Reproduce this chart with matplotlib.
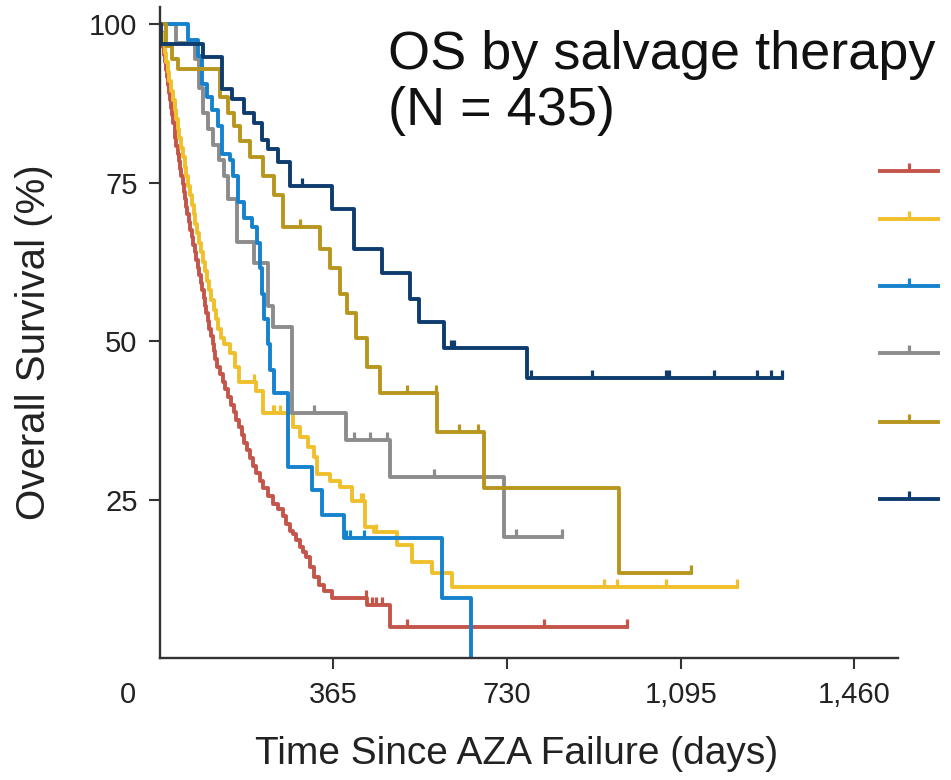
import numpy as np
import matplotlib.pyplot as plt
import matplotlib.transforms as mtransforms
from matplotlib.lines import Line2D
from matplotlib.markers import TICKUP

plt.rcParams['font.family'] = ['Liberation Sans', 'DejaVu Sans']

# Kaplan-Meier steps: event times (days) and survival (%) after each drop
red_t = [2, 4, 6, 8, 11, 13, 15, 17, 19, 21, 24, 26, 28, 31, 33, 35, 38, 40, 43, 45,
         48, 50, 53, 55, 58, 61, 64, 67, 70, 73, 76, 80, 83, 86, 89, 92, 95, 98, 101, 104,
         108, 111, 114, 117, 120, 126, 132, 138, 144, 150, 156, 161, 166, 172, 178, 184,
         190, 196, 203, 210, 218, 227, 237, 248, 258, 266, 273, 280, 287, 294, 301, 308,
         316, 324, 334, 346, 361, 436, 483]
red_s = [98.8, 97.6, 96.4, 95.2, 94, 92.8, 91.6, 90.4, 89.2, 88, 86.8, 85.6, 84.4, 83.2,
         82, 80.8, 79.6, 78.4, 77.2, 76, 74.8, 73.6, 72.4, 71.2, 70, 68.8, 67.6, 66.4, 65.2,
         64, 62.8, 61.6, 60.4, 59.2, 58, 56.8, 55.6, 54.4, 53.2, 52, 50.8, 49.6, 48.4, 47.2,
         46, 44.8, 43.6, 42.4, 41.2, 40, 38.8, 37.6, 36.4, 35.2, 34, 32.8, 31.6, 30.4, 29.2,
         28, 26.8, 25.6, 24.4, 23.6, 22.4, 21.2, 20, 19.6, 18.6, 17.6, 16.8, 16.0, 14.4,
         12.8, 11.6, 10.6, 9.5, 8.4, 4.9]
red_end = 982
red_cens = [434, 445, 455, 468, 520, 808, 982]

yel_t = [3, 7, 10, 14, 17, 20, 24, 27, 31, 34, 38, 41, 45, 49, 52, 56, 60, 63, 67, 71,
         75, 79, 83, 87, 90, 95, 99, 104, 108, 113, 118, 123, 128, 134, 148, 158, 166, 203,
         216, 279, 294, 311, 325, 331, 357, 378, 403, 432, 451, 499, 531, 573, 615]
yel_s = [98.5, 97, 95.5, 94, 92.5, 91, 89.5, 88, 86.5, 85, 83.5, 82, 80.5, 79, 77.5, 76,
         74.5, 73, 71.5, 70, 68.5, 67, 65.5, 64, 62.5, 61, 59.5, 58, 56.5, 55, 53.5, 52,
         50.5, 49.5, 48.2, 46.0, 43.6, 42.2, 38.7, 36.5, 34.9, 33.3, 31.8, 29.1, 28.0, 27.0,
         24.8, 20.7, 19.9, 17.9, 15.2, 13.4, 11.2]
yel_end = 1213
yel_cens = [199, 237, 241, 252, 422, 428, 455, 934, 961, 1064, 1213]

blue_t = [59, 80, 88, 99, 109, 122, 130, 147, 153, 164, 178, 193, 204, 210, 214, 220,
          227, 231, 241, 269, 319, 342, 388, 594, 655]
blue_s = [97.5, 95.0, 90.5, 88.5, 86.5, 84.0, 79.5, 78.5, 76.0, 72.0, 69.5, 68.0, 65.5,
          61.5, 57.5, 53.5, 49.5, 45.5, 41.9, 30.2, 26.5, 22.6, 19.0, 9.5, 0.0]
blue_end = 655
blue_cens = [392, 399, 430]

gray_t = [34, 73, 82, 90, 101, 111, 124, 134, 143, 162, 199, 227, 237, 277, 392, 483, 724]
gray_s = [97.0, 94.5, 90.0, 86.0, 83.5, 81.0, 78.5, 76.0, 72.5, 65.7, 62.4, 55.5, 52.3,
          38.7, 34.4, 28.6, 19.1]
gray_end = 846
gray_cens = [325, 409, 441, 478, 577, 749, 846]

gold_t = [13, 25, 38, 126, 143, 155, 168, 189, 216, 241, 258, 336, 357, 378, 394, 413,
          436, 462, 583, 682, 965]
gold_s = [96.5, 94.5, 93.0, 88.5, 86.0, 84.0, 81.5, 79.0, 76.0, 73.0, 68.0, 64.5, 61.5,
          57.5, 54.5, 50.5, 46.0, 41.9, 35.7, 26.9, 13.4]
gold_end = 1116
gold_cens = [294, 520, 580, 629, 669, 1116]

navy_t = [2, 90, 130, 151, 178, 199, 214, 227, 248, 273, 363, 409, 468, 525, 545, 598, 772]
navy_s = [96.8, 94.8, 89.7, 88.2, 86.0, 84.4, 81.8, 80.3, 78.2, 74.4, 70.8, 64.5, 60.8,
          56.6, 53.1, 49.0, 44.2]
navy_end = 1307
navy_cens = [298, 613, 619, 780, 908, 1064, 1070, 1164, 1255, 1284, 1307]

colors = ['#c4554b', '#f0c02c', '#1682cd', '#8c8c8c', '#b8961e', '#0f3c6e']
xtick_vals = [0, 365, 730, 1095, 1460]
xtick_labels = ['0', '365', '730', '1,095', '1,460']
ytick_vals = [25, 50, 75, 100]

LW = 2.8

fig = plt.figure(figsize=(9.51, 7.80), dpi=100)
ax = fig.add_axes([0.168, 0.156, 0.776, 0.835])


def km_curve(t, s, end, cens, color):
    x = np.r_[0, t, end]
    y = np.r_[100, s, s[-1]]
    ax.step(x, y, where='post', color=color, lw=LW)
    idx = np.searchsorted(x, cens, side='right') - 1
    ax.plot(cens, y[idx], ls='none', marker=TICKUP, ms=6, mew=2.3, color=color)


groups = [(red_t, red_s, red_end, red_cens),
          (yel_t, yel_s, yel_end, yel_cens),
          (gray_t, gray_s, gray_end, gray_cens),
          (blue_t, blue_s, blue_end, blue_cens),
          (gold_t, gold_s, gold_end, gold_cens),
          (navy_t, navy_s, navy_end, navy_cens)]
order = [0, 1, 3, 2, 4, 5]
for g, c in zip(groups, [colors[i] for i in order]):
    km_curve(*g, c)

ax.set_xlim(0, 1551)
ax.set_ylim(0, 102.7)
for side in ['top', 'right']:
    ax.spines[side].set_visible(False)
for side in ['left', 'bottom']:
    ax.spines[side].set_linewidth(1.7)
    ax.spines[side].set_color('#333333')

ax.set_xticks(xtick_vals)
ax.set_xticklabels(xtick_labels)
ax.set_yticks(ytick_vals)
ax.tick_params(length=8, width=1.5, color='#333333', labelsize=21, pad=8,
               labelcolor='#222222')
ax.xaxis.get_major_ticks()[0].tick1line.set_visible(False)
zero = ax.get_xticklabels()[0]
zero.set_transform(zero.get_transform() +
                   mtransforms.ScaledTranslation(-0.32, 0, fig.dpi_scale_trans))

ax.set_xlabel('Time Since AZA Failure (days)', fontsize=28, color='#222222')
ax.xaxis.set_label_coords(0.484, -0.12)
ax.set_ylabel('Overall Survival (%)', fontsize=29, color='#222222')
ax.yaxis.set_label_coords(-0.145, 0.485)

fig.text(388 / 951, 1 - 30 / 780, 'OS by salvage therapy\n(N = 435)', fontsize=39,
         ha='left', va='top', linespacing=1.15, color='#111111')

# key swatches on the right, one per group
leg_y = [172, 220, 287, 354, 423, 500]
for c, yy in zip(colors, leg_y):
    h = Line2D([], [], color=c, lw=LW, marker=TICKUP, ms=6, mew=2.3)
    fig.legend([h], [''], loc='center left', bbox_to_anchor=(880 / 951, 1 - yy / 780),
               frameon=False, handlelength=4.2, handletextpad=0, borderpad=0,
               borderaxespad=0, numpoints=1)

fig.savefig('out.png', dpi=100)
